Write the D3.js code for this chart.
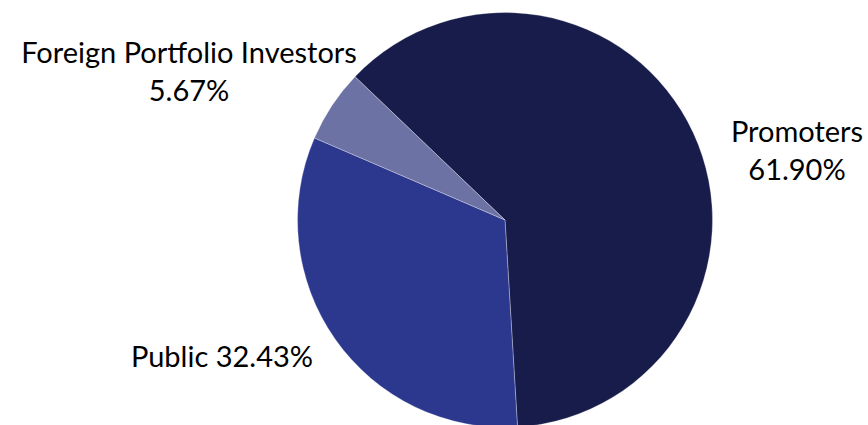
<!DOCTYPE html>
<html>
<head>
<meta charset="utf-8">
<script src="https://cdn.jsdelivr.net/npm/d3@7"></script>
<style>
  html, body { margin: 0; padding: 0; background: #fff; }
  #chart { width: 868px; height: 425px; }
</style>
</head>
<body>
<div id="chart"></div>
<script>
// data
const categories = ['Promoters', 'Public', 'Foreign Portfolio Investors'];
const shares = [61.90, 32.43, 5.67];
const colors = ['#171c4a', '#2c388e', '#6d72a5'];

const width_svg = 868, height_svg = 425;
const cx = 505, cy = 220, radius = 207.5;
const startDeg = -46.3;   // first slice starts up-left, clockwise

// label boxes (centre x, first baseline, line gap) - placed like the original
const labelLayout = [
  {x: 797, y: 142, lines: d => [d.data.cat, fmt(d.data.v)]},
  {x: 222, y: 367, lines: d => [d.data.cat + ' ' + fmt(d.data.v)]},
  {x: 189, y: 63,  lines: d => [d.data.cat, fmt(d.data.v)]}
];
const lineGap = 38;
const fmt = v => v.toFixed(2) + '%';

const svg = d3.select('#chart')
  .append('svg')
  .attr('width', width_svg)
  .attr('height', height_svg);

const data = categories.map((c, i) => ({cat: c, v: shares[i]}));

const pie = d3.pie()
  .value(d => d.v)
  .sort(null)
  .startAngle(startDeg * Math.PI / 180)
  .endAngle(startDeg * Math.PI / 180 + 2 * Math.PI);

const arc = d3.arc().innerRadius(0).outerRadius(radius);
const arcs = pie(data);

const g = svg.append('g').attr('transform', `translate(${cx}, ${cy})`);

g.selectAll('path')
  .data(arcs)
  .enter().append('path')
    .attr('d', arc)
    .attr('fill', (d, i) => colors[i])
    .attr('stroke', '#ffffff')
    .attr('stroke-opacity', 0.5)
    .attr('stroke-width', 0.6);

// labels
let labels = svg.append('g')
  .attr('font-family', 'Lato, "Open Sans", sans-serif')
  .attr('font-size', 29)
  .attr('fill', '#000')
  .attr('text-anchor', 'middle');

arcs.forEach((d, i) => {
  let lay = labelLayout[i];
  let t = labels.append('text');
  lay.lines(d).forEach((s, k) => {
    t.append('tspan')
      .attr('x', lay.x)
      .attr('y', lay.y + k * lineGap)
      .text(s);
  });
});
</script>
</body>
</html>
